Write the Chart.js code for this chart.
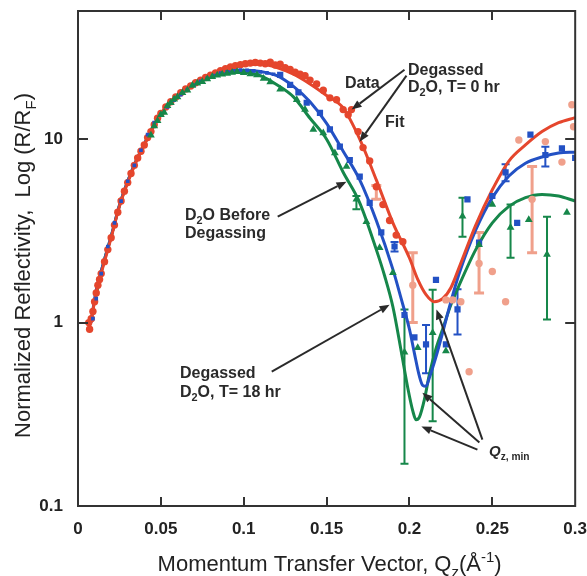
<!DOCTYPE html>
<html>
<head>
<meta charset="utf-8">
<script src="https://cdn.jsdelivr.net/npm/chart.js@4.4.1/dist/chart.umd.min.js"></script>
<style>
  html, body { margin: 0; padding: 0; background: #fff; }
  #wrap { width: 587px; height: 576px; position: relative; }
</style>
</head>
<body>
<div id="wrap"><canvas id="reflChart"></canvas></div>
<script>
// axis ticks
const xTicks = [0, 0.05, 0.1, 0.15, 0.2, 0.25, 0.3];
const xTickLabels = ["0", "0.05", "0.1", "0.15", "0.2", "0.25", "0.3"];
const yTicks = [0.1, 1, 10];
const yTickLabels = ["0.1", "1", "10"];

// Degassed D2O, T = 0 hr (red circles)
const redQ = [
  0.0065, 0.007, 0.008, 0.009, 0.010, 0.011, 0.012, 0.013, 0.014, 0.016,
  0.018, 0.020, 0.022, 0.024, 0.026, 0.028, 0.030, 0.032, 0.034, 0.036,
  0.038, 0.040, 0.042, 0.044, 0.046, 0.048, 0.050, 0.053, 0.056, 0.059,
  0.062, 0.065, 0.068, 0.071, 0.074, 0.077, 0.080, 0.083, 0.086, 0.089,
  0.092, 0.095, 0.098, 0.101, 0.104, 0.107, 0.110, 0.113, 0.116, 0.119,
  0.122, 0.125, 0.128, 0.131, 0.134, 0.137, 0.140, 0.144, 0.148, 0.152,
  0.156, 0.160, 0.163, 0.165, 0.169, 0.172, 0.176, 0.180, 0.184, 0.188,
  0.192, 0.196, 0.202, 0.222, 0.226, 0.231, 0.236, 0.242, 0.250, 0.258,
  0.266, 0.274, 0.282, 0.292, 0.298, 0.299
];
const redR = [
  1.0, 0.92, 1.05, 1.15, 1.3, 1.45, 1.6, 1.72, 1.85, 2.15,
  2.5, 2.9, 3.4, 4.0, 4.6, 5.2, 5.8, 6.5, 7.2, 7.9,
  8.6, 9.3, 10.2, 11.0, 12.0, 13.0, 13.8, 15.0, 16.0, 17.0,
  17.9, 18.8, 19.5, 20.3, 21.0, 21.7, 22.3, 23.0, 23.6, 24.2,
  24.8, 25.2, 25.5, 25.8, 26.0, 26.2, 26.0, 25.8, 26.3, 25.4,
  25.6, 24.5, 24.0, 23.2, 22.6, 22.2, 21.0, 20.0, 18.5, 16.8,
  16.4, 14.5, 13.6, 14.5, 11.0, 9.0, 7.6, 5.5, 4.4, 3.6,
  3.0, 2.76, 1.6, 1.33, 1.33, 1.3, 0.54, 2.1, 1.9, 1.3,
  9.9, 4.7, 9.7, 7.5, 15.4, 11.7
];
const redErrQ = [0.180, 0.202, 0.242, 0.274];
const redErrLo = [4.7, 1.0, 1.45, 2.4];
const redErrHi = [5.6, 2.4, 3.1, 7.1];
const redFitQ = [0.007, 0.01, 0.012, 0.015, 0.02, 0.025, 0.03, 0.035, 0.04, 0.045, 0.05, 0.06, 0.07, 0.08, 0.09, 0.1, 0.11, 0.12, 0.13, 0.14, 0.15, 0.16, 0.17, 0.18, 0.19, 0.2, 0.205, 0.21, 0.215, 0.22, 0.225, 0.23, 0.24, 0.25, 0.26, 0.27, 0.28, 0.29, 0.3];
const redFitR = [0.95, 1.3, 1.6, 2.0, 2.9, 4.3, 5.8, 7.5, 9.3, 11.5, 13.8, 17.3, 20.0, 22.2, 24.2, 25.4, 25.6, 24.6, 22.6, 20.0, 17.3, 14.8, 10.0, 6.0, 3.5, 2.25, 1.72, 1.42, 1.3, 1.35, 1.55, 2.0, 3.4, 5.3, 7.6, 9.3, 11.0, 12.3, 13.1];

// D2O before degassing (blue squares)
const blueQ = [
  0.009, 0.011, 0.014, 0.018, 0.022, 0.026, 0.030, 0.034, 0.038, 0.042,
  0.046, 0.050, 0.054, 0.058, 0.062, 0.066, 0.070, 0.074, 0.078, 0.082,
  0.086, 0.090, 0.094, 0.098, 0.102, 0.106, 0.110, 0.114, 0.118, 0.122,
  0.128, 0.133, 0.138, 0.146, 0.152, 0.158, 0.164, 0.170, 0.176, 0.183,
  0.191, 0.197, 0.203, 0.210, 0.216, 0.222, 0.229, 0.235, 0.242, 0.250,
  0.258, 0.265, 0.273, 0.282, 0.292, 0.300
];
const blueR = [
  1.05, 1.35, 1.85, 2.6, 3.5, 4.6, 5.9, 7.2, 8.7, 10.6,
  12.3, 13.6, 15.0, 16.3, 17.5, 18.6, 19.7, 20.7, 21.5, 22.2,
  22.9, 23.3, 23.6, 23.8, 23.7, 23.6, 23.3, 23.0, 22.6, 22.4,
  19.8, 18.0, 15.8, 13.9, 11.3, 9.1, 7.7, 6.25, 4.5, 3.1,
  2.6, 1.1, 0.83, 0.76, 1.71, 0.76, 1.18, 4.7, 2.73, 4.9,
  6.6, 3.5, 10.6, 8.2, 8.9, 7.9
];
const blueErrQ = [0.191, 0.210, 0.229, 0.258, 0.282];
const blueErrLo = [2.44, 0.53, 0.86, 5.9, 7.1];
const blueErrHi = [2.75, 0.97, 1.52, 7.3, 9.1];
const blueFitQ = [0.008, 0.01, 0.012, 0.015, 0.02, 0.025, 0.03, 0.035, 0.04, 0.045, 0.05, 0.06, 0.07, 0.08, 0.09, 0.1, 0.11, 0.12, 0.13, 0.14, 0.15, 0.16, 0.17, 0.18, 0.19, 0.195, 0.2, 0.203, 0.206, 0.208, 0.21, 0.212, 0.216, 0.22, 0.225, 0.23, 0.24, 0.25, 0.26, 0.27, 0.28, 0.29, 0.3];
const blueFitR = [1.0, 1.35, 1.65, 2.05, 2.95, 4.35, 5.9, 7.6, 9.4, 11.6, 13.8, 17.2, 20.0, 22.0, 23.4, 23.8, 23.4, 22.2, 19.4, 16.0, 12.2, 8.6, 6.0, 3.6, 1.95, 1.35, 0.92, 0.68, 0.51, 0.455, 0.45, 0.5, 0.65, 0.88, 1.3, 1.85, 3.2, 4.8, 6.3, 7.4, 8.0, 8.4, 8.5];

// Degassed D2O, T = 18 hr (green triangles)
const greenQ = [
  0.044, 0.046, 0.048, 0.050, 0.052, 0.054, 0.056, 0.058, 0.060, 0.063,
  0.066, 0.069, 0.072, 0.075, 0.078, 0.081, 0.084, 0.087, 0.090, 0.093,
  0.096, 0.100, 0.104, 0.108, 0.112, 0.116, 0.122, 0.132, 0.137, 0.142,
  0.148, 0.155, 0.162, 0.168, 0.174, 0.182, 0.190, 0.197, 0.205, 0.214,
  0.222, 0.232, 0.242, 0.250, 0.261, 0.272, 0.283, 0.295
];
const greenR = [
  10.5, 11.8, 12.6, 13.6, 14.0, 15.2, 15.8, 16.5, 17.0, 17.9,
  18.5, 19.6, 20.2, 20.6, 21.3, 21.9, 22.3, 22.6, 22.8, 23.1,
  23.3, 23.0, 22.7, 22.4, 21.4, 20.5, 18.7, 16.4, 14.5, 11.3,
  10.8, 8.4, 7.1, 4.7, 3.55, 2.56, 1.87, 0.69, 0.73, 0.88,
  0.7, 3.8, 2.66, 4.4, 3.3, 3.64, 2.35, 3.98
];
const greenErrQ = [0.168, 0.197, 0.214, 0.232, 0.261, 0.283];
const greenErrLo = [4.15, 0.17, 0.29, 2.94, 2.26, 1.04];
const greenErrHi = [4.9, 1.18, 1.51, 4.8, 4.4, 3.78];
const greenFitQ = [0.01, 0.015, 0.02, 0.025, 0.03, 0.035, 0.04, 0.045, 0.05, 0.06, 0.07, 0.08, 0.09, 0.1, 0.11, 0.12, 0.13, 0.14, 0.15, 0.16, 0.17, 0.18, 0.185, 0.19, 0.195, 0.199, 0.202, 0.204, 0.206, 0.209, 0.212, 0.216, 0.22, 0.225, 0.23, 0.24, 0.25, 0.26, 0.27, 0.28, 0.29, 0.3];
const greenFitR = [1.3, 2.05, 2.95, 4.35, 5.9, 7.6, 9.4, 11.5, 13.6, 17.0, 19.8, 21.8, 23.0, 23.2, 22.2, 19.8, 17.0, 13.0, 10.0, 6.6, 4.5, 2.5, 1.8, 1.22, 0.7, 0.44, 0.33, 0.295, 0.305, 0.38, 0.52, 0.72, 0.92, 1.25, 1.6, 2.5, 3.5, 4.3, 4.8, 5.0, 4.9, 4.6];

// arrows: [tailQ, tailR, tipQ, tipR]
const arrows = [
  [0.197, 23.9, 0.1651, 14.5],
  [0.1982, 22.2, 0.1699, 9.69],
  [0.1205, 3.78, 0.162, 5.87],
  [0.1169, 0.541, 0.188, 1.25],
  [0.244, 0.23, 0.2163, 1.18],
  [0.2422, 0.222, 0.2078, 0.415],
  [0.241, 0.203, 0.2072, 0.271]
];

const FONT = "'Liberation Sans', Arial, Helvetica, sans-serif";
const RED = "#e5462d";
const RED_LIGHT = "#f0a08b";
const BLUE = "#2351c4";
const GREEN = "#16874a";
const INK = "#2a2a2a";

const pts = (qs, rs) => qs.map((q, i) => ({ x: q, y: rs[i] }));

const errorSets = [
  { q: redErrQ, lo: redErrLo, hi: redErrHi, color: RED_LIGHT, width: 3, cap: 5 },
  { q: blueErrQ, lo: blueErrLo, hi: blueErrHi, color: BLUE, width: 2, cap: 4 },
  { q: greenErrQ, lo: greenErrLo, hi: greenErrHi, color: GREEN, width: 2, cap: 4 },
];

// draw text with sub/superscripts, parts = [text, mode]
function drawRich(ctx, parts, x, y, size, weight, align) {
  const fontFor = (m) => {
    const s = (m === "sub" || m === "sup") ? size * 0.68 : size;
    const style = m === "it" ? "italic " : "";
    return style + weight + " " + s + "px " + FONT;
  };
  let total = 0;
  parts.forEach(([t, m]) => { ctx.font = fontFor(m); total += ctx.measureText(t).width; });
  let cx = align === "center" ? x - total / 2 : x;
  parts.forEach(([t, m]) => {
    ctx.font = fontFor(m);
    let dy = 0;
    if (m === "sub") dy = size * 0.28;
    if (m === "sup") dy = -size * 0.42;
    ctx.fillText(t, cx, y + dy);
    cx += ctx.measureText(t).width;
  });
}

function drawArrow(ctx, x1, y1, x2, y2) {
  const ang = Math.atan2(y2 - y1, x2 - x1);
  const hl = 10, hw = 4;
  const bx = x2 - hl * Math.cos(ang), by = y2 - hl * Math.sin(ang);
  ctx.beginPath();
  ctx.moveTo(x1, y1);
  ctx.lineTo(bx, by);
  ctx.stroke();
  ctx.beginPath();
  ctx.moveTo(x2, y2);
  ctx.lineTo(bx + hw * Math.sin(ang), by - hw * Math.cos(ang));
  ctx.lineTo(bx - hw * Math.sin(ang), by + hw * Math.cos(ang));
  ctx.closePath();
  ctx.fill();
}

const decor = {
  id: "decor",
  beforeDatasetsDraw(chart) {
    const { ctx, scales: { x, y } } = chart;
    ctx.save();
    errorSets.forEach(set => {
      ctx.strokeStyle = set.color;
      ctx.lineWidth = set.width;
      set.q.forEach((q, i) => {
        const px = x.getPixelForValue(q);
        const p1 = y.getPixelForValue(set.lo[i]);
        const p2 = y.getPixelForValue(set.hi[i]);
        ctx.beginPath();
        ctx.moveTo(px, p1); ctx.lineTo(px, p2);
        ctx.moveTo(px - set.cap, p1); ctx.lineTo(px + set.cap, p1);
        ctx.moveTo(px - set.cap, p2); ctx.lineTo(px + set.cap, p2);
        ctx.stroke();
      });
    });
    ctx.restore();
  },
  afterDraw(chart) {
    const { ctx, chartArea: a, scales: { x, y } } = chart;
    ctx.save();
    // frame and inward ticks
    ctx.strokeStyle = "#333";
    ctx.lineWidth = 2;
    ctx.strokeRect(a.left, a.top, a.right - a.left, a.bottom - a.top);
    ctx.beginPath();
    x.ticks.forEach(t => {
      if (t.value <= 0 || t.value >= 0.3) return;
      const px = Math.round(x.getPixelForValue(t.value));
      ctx.moveTo(px, a.bottom); ctx.lineTo(px, a.bottom - 9);
      ctx.moveTo(px, a.top); ctx.lineTo(px, a.top + 9);
    });
    y.ticks.forEach(t => {
      if (t.value <= 0.1) return;
      const py = Math.round(y.getPixelForValue(t.value));
      ctx.moveTo(a.left, py); ctx.lineTo(a.left + 10, py);
      ctx.moveTo(a.right, py); ctx.lineTo(a.right - 10, py);
    });
    ctx.stroke();

    // axis titles
    ctx.fillStyle = "#222";
    ctx.textBaseline = "alphabetic";
    drawRich(ctx, [["Momentum Transfer Vector, Q", ""], ["z", "sub"], ["(Å", ""], ["-1", "sup"], [")", ""]],
      (a.left + a.right) / 2 + 3, 571, 22, "normal", "center");
    ctx.save();
    ctx.translate(30, (a.top + a.bottom) / 2 + 7);
    ctx.rotate(-Math.PI / 2);
    drawRich(ctx, [["Normalized Reflectivity,  Log (R/R", ""], ["F", "sub"], [")", ""]], 0, 0, 22, "normal", "center");
    ctx.restore();

    // annotations
    ctx.fillStyle = INK;
    drawRich(ctx, [["Data", ""]], 345, 88, 16, "bold", "left");
    drawRich(ctx, [["Degassed", ""]], 408, 75, 16, "bold", "left");
    drawRich(ctx, [["D", ""], ["2", "sub"], ["O, T= 0 hr", ""]], 408, 92, 16, "bold", "left");
    drawRich(ctx, [["Fit", ""]], 385, 127, 16, "bold", "left");
    drawRich(ctx, [["D", ""], ["2", "sub"], ["O Before", ""]], 185, 220, 16, "bold", "left");
    drawRich(ctx, [["Degassing", ""]], 185, 238, 16, "bold", "left");
    drawRich(ctx, [["Degassed", ""]], 180, 378, 16, "bold", "left");
    drawRich(ctx, [["D", ""], ["2", "sub"], ["O, T= 18 hr", ""]], 180, 397, 16, "bold", "left");
    drawRich(ctx, [["Q", "it"], ["z, min", "sub"]], 489, 456, 15, "bold", "left");

    ctx.strokeStyle = INK;
    ctx.lineWidth = 2;
    arrows.forEach(([q1, r1, q2, r2]) => {
      drawArrow(ctx, x.getPixelForValue(q1), y.getPixelForValue(r1),
        x.getPixelForValue(q2), y.getPixelForValue(r2));
    });
    ctx.restore();
  }
};

const ctx = document.getElementById("reflChart").getContext("2d");

const fitLine = (label, qs, rs, color, order) => ({
  type: "line",
  label: label,
  data: pts(qs, rs),
  borderColor: color,
  borderWidth: 3,
  pointRadius: 0,
  fill: false,
  cubicInterpolationMode: "monotone",
  order: order,
});

const reflChart = new Chart(ctx, {
  type: "scatter",
  data: {
    datasets: [
      {
        label: "T= 18 hr data",
        data: pts(greenQ, greenR),
        pointStyle: "triangle",
        pointRadius: 4.5,
        backgroundColor: GREEN,
        borderWidth: 0,
        order: 1,
      },
      {
        label: "Before degassing data",
        data: pts(blueQ, blueR),
        pointStyle: "rect",
        pointRadius: (c) => (c.raw && c.raw.x < 0.12 ? 2.6 : 4.4),
        backgroundColor: BLUE,
        borderWidth: 0,
        order: 2,
      },
      {
        label: "T= 0 hr data",
        data: pts(redQ, redR),
        pointStyle: "circle",
        pointRadius: 3.7,
        backgroundColor: (c) => (c.raw && c.raw.x > 0.198 ? RED_LIGHT : RED),
        borderWidth: 0,
        order: 3,
      },
      fitLine("T= 0 hr fit", redFitQ, redFitR, RED, 4),
      fitLine("Before degassing fit", blueFitQ, blueFitR, BLUE, 5),
      fitLine("T= 18 hr fit", greenFitQ, greenFitR, GREEN, 6),
    ],
  },
  options: {
    responsive: true,
    maintainAspectRatio: false,
    animation: false,
    layout: { padding: { top: 11, right: 11, left: 0, bottom: 0 } },
    scales: {
      x: {
        type: "linear",
        min: 0,
        max: 0.3,
        afterBuildTicks: (s) => { s.ticks = xTicks.map(v => ({ value: v })); },
        afterFit: (s) => { s.height = 70; },
        ticks: {
          callback: (v, i) => xTickLabels[i],
          font: { family: FONT, size: 17, weight: "bold" },
          color: "#222",
          padding: 0,
          autoSkip: false,
          maxRotation: 0,
        },
        grid: { display: false, drawTicks: true, tickLength: 13 },
        border: { display: false },
      },
      y: {
        type: "logarithmic",
        min: 0.1,
        max: 50,
        afterBuildTicks: (s) => { s.ticks = yTicks.map(v => ({ value: v })); },
        afterFit: (s) => { s.width = 78; },
        ticks: {
          callback: (v, i) => yTickLabels[i],
          font: { family: FONT, size: 17, weight: "bold" },
          color: "#222",
          padding: 0,
          autoSkip: false,
        },
        grid: { display: false, drawTicks: true, tickLength: 15 },
        border: { display: false },
      },
    },
    plugins: {
      legend: { display: false },
      tooltip: { enabled: false },
    },
  },
  plugins: [decor],
});
</script>
</body>
</html>
